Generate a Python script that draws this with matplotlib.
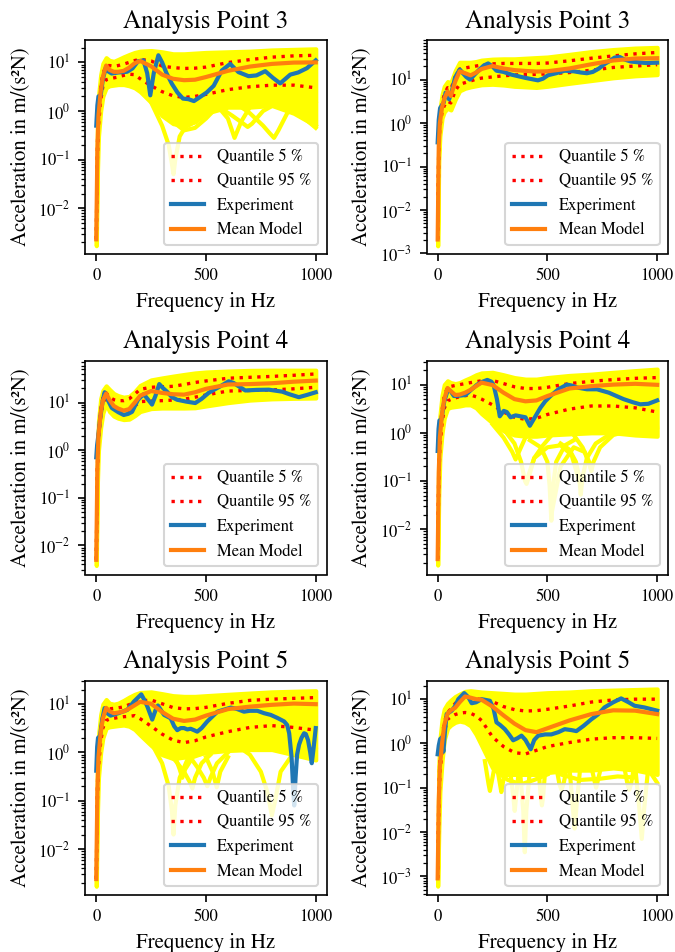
import matplotlib
matplotlib.use("Agg")
import matplotlib.pyplot as plt

plt.rcParams['font.family'] = ['STIXGeneral', 'DejaVu Serif']
plt.rcParams['mathtext.fontset'] = 'stix'
plt.rcParams['xtick.labelsize'] = 8
plt.rcParams['ytick.labelsize'] = 8

# ---------------- data ----------------
TITLES = ["Analysis Point 3", "Analysis Point 3", "Analysis Point 4",
          "Analysis Point 4", "Analysis Point 5", "Analysis Point 5"]
XLABEL = "Frequency in Hz"
YLABEL = "Acceleration in m/(s²N)"
LEGEND_LABELS = ["Quantile 5 %", "Quantile 95 %", "Experiment", "Mean Model"]

F = [0, 5, 10, 20, 30, 45, 60, 80, 100, 125, 150, 175, 200, 250, 300, 350,
     400, 450, 500, 600, 700, 800, 900, 1000]

# Panel 1 (Analysis Point 3, left)
P1_MEAN = [0.0023, 0.15, 0.8, 2.5, 5.0, 8.6, 7.0, 6.4, 6.4, 6.7, 7.8, 9.6, 10.7, 8.3, 5.6, 4.6, 4.3, 4.4, 5.0, 6.7, 8.2, 9.3, 9.9, 10.0]
P1_Q95 = [0.0023, 0.2, 1.0, 3.0, 5.8, 8.6, 8.6, 8.3, 8.6, 9.2, 10.0, 10.9, 11.6, 10.7, 8.4, 7.8, 7.5, 7.6, 8.0, 9.9, 11.4, 12.8, 13.6, 14.0]
P1_Q5 = [0.0023, 0.1, 0.5, 1.6, 3.2, 4.4, 4.6, 4.8, 5.0, 5.4, 5.7, 5.6, 4.6, 3.3, 2.5, 2.05, 1.9, 2.0, 2.2, 2.75, 3.15, 3.4, 3.4, 3.0]
P1_HI = [0.003, 0.5, 2.0, 5.5, 9.5, 12.5, 11, 10.5, 11.5, 13, 14.5, 16, 17, 17.5, 16.5, 15, 15, 15.5, 16, 16.5, 17, 18, 18.5, 19]
P1_LO = [0.0017, 0.05, 0.3, 1.0, 2.0, 3.0, 3.3, 3.4, 3.5, 3.5, 3.3, 3.0, 2.5, 1.5, 0.8, 0.55, 0.5, 0.6, 0.9, 1.2, 1.2, 1.3, 0.9, 0.5]
P1_EXP_F = [0, 5, 10, 20, 30, 44, 55, 70, 100, 140, 165, 190, 215, 232, 246, 262, 283, 300, 320, 345, 370, 395, 420, 445, 470, 503, 535, 572, 610, 648, 694, 730, 770, 805, 838, 884, 920, 960, 1000]
P1_EXP = [0.5, 1.3, 2.0, 2.1, 4.5, 8.0, 6.5, 5.9, 6.2, 6.4, 7.5, 10.5, 11, 6, 2.1, 6, 14, 10, 6.0, 3.6, 2.4, 1.8, 1.75, 1.6, 1.9, 2.4, 3.3, 6.8, 9.3, 6.3, 5.2, 5.4, 6.6, 4.8, 3.7, 5.6, 6.2, 7.6, 11]
P1_SAMPLES = [
    ([250, 300, 330, 345, 352, 360, 380, 420, 470], [1.5, 0.5, 0.2, 0.08, 0.05, 0.1, 0.3, 0.6, 0.8]),
    ([400, 450, 500, 550, 600, 630, 660, 700, 750], [0.45, 0.6, 1.0, 1.3, 0.7, 0.28, 0.6, 1.2, 1.6]),
    ([600, 650, 700, 760, 790, 810, 830, 870, 920, 1000], [1.6, 1.3, 0.9, 0.5, 0.35, 0.28, 0.4, 0.9, 1.3, 1.6]),
    ([500, 560, 620, 670, 690, 710, 760, 830, 900, 1000], [1.6, 1.2, 0.8, 0.55, 0.47, 0.55, 1.0, 1.5, 1.2, 0.5]),
    ([300, 350, 400, 450, 500, 550], [1.0, 0.6, 0.4, 0.45, 0.7, 1.2]),
    ([700, 800, 900, 950, 1000], [1.8, 1.6, 1.0, 0.7, 0.45]),
]

# Panel 2 (Analysis Point 3, right)
P2_MEAN = [0.0021, 0.3, 1.0, 2.3, 3.6, 5.3, 4.2, 9.0, 15.5, 14.0, 12.5, 14.5, 17.5, 20.5, 18.0, 16.5, 15.8, 15.3, 15.5, 18.0, 22.5, 27.5, 30.5, 31.0]
P2_Q95 = [0.0021, 0.35, 1.2, 2.8, 4.5, 6.5, 6.0, 11.5, 17.5, 18.5, 19.5, 20.5, 21.5, 23, 23.5, 23.5, 23.5, 23.5, 24, 27, 31, 35, 39, 42]
P2_Q5 = [0.0021, 0.25, 0.8, 1.8, 2.5, 3.2, 2.9, 5.5, 7.8, 8.5, 9.3, 10.2, 10.8, 11.5, 12.2, 12.8, 13.0, 13.2, 13.5, 14.5, 16.4, 19, 20.5, 22]
P2_HI = [0.0025, 0.6, 2.0, 4.5, 7.0, 9, 8.5, 16, 25, 25, 25, 26, 28, 29.5, 30, 30, 31, 32, 33, 38, 44, 49, 53, 55]
P2_LO = [0.0015, 0.15, 0.5, 1.3, 1.8, 2.2, 2.0, 3.5, 5.5, 6.3, 6.8, 7.2, 7.6, 7.8, 7.5, 7.0, 6.8, 6.6, 7.0, 8.2, 9.5, 11, 12.2, 13.0]
P2_EXP_F = [0, 5, 11, 18, 28, 36, 45, 52, 65, 79, 90, 101, 115, 130, 147, 165, 185, 210, 230, 250, 268, 300, 336, 397, 430, 457, 480, 503, 540, 579, 620, 654, 680, 707, 735, 760, 785, 806, 830, 851, 880, 912, 950, 1000]
P2_EXP = [0.36, 1.2, 2.2, 2.5, 3.0, 5.0, 4.5, 3.5, 5.5, 11, 14, 17, 14, 11.5, 10, 12.5, 16, 21, 23.5, 20, 16, 15, 13, 11, 10.2, 9.6, 10.5, 12.6, 14, 16, 15.5, 14.5, 14, 15, 18, 22.7, 27, 32, 33, 29, 26, 25, 24, 24.5]
P2_SAMPLES = []

# Panel 3 (Analysis Point 4, left)
P3_MEAN = [0.005, 0.4, 2.0, 6.0, 11, 15.5, 11.5, 8.5, 7.5, 6.8, 7.3, 10, 14, 17.5, 16, 15, 14.7, 16.5, 19.5, 24, 24.5, 25.5, 27.5, 29]
P3_Q95 = [0.005, 0.45, 2.3, 7, 12.5, 16, 13, 11.5, 11, 11, 12, 15, 19, 21, 21.5, 22, 24, 26.5, 28.5, 32.5, 34, 35.5, 37.5, 40]
P3_Q5 = [0.005, 0.35, 1.7, 5, 9.5, 14, 9.5, 7.5, 7.0, 6.7, 6.8, 8.5, 10.5, 10.8, 11, 11.3, 11.8, 13, 14.5, 17.5, 18, 18.5, 19.5, 21]
P3_HI = [0.0065, 0.8, 4, 12, 18, 22.5, 19, 15.5, 14, 13, 13.5, 17, 23, 30, 33, 36, 39, 42, 44, 46, 47.5, 48, 48, 48]
P3_LO = [0.0038, 0.2, 1.0, 3, 6, 9.5, 6.5, 5.2, 4.7, 4.4, 4.5, 5.3, 6.5, 7.5, 7.7, 7.7, 7.7, 7.8, 8.5, 10, 11.3, 12, 12.3, 12.5]
P3_EXP_F = [0, 4, 8, 18, 28, 38, 50, 71, 100, 125, 145, 163, 190, 216, 240, 254, 270, 287, 305, 322, 345, 368, 410, 451, 480, 512, 540, 565, 603, 625, 649, 679, 730, 786, 847, 880, 923, 960, 1000]
P3_EXP = [0.71, 1.3, 1.8, 4.8, 10, 16.5, 12, 7.7, 6.3, 5.5, 5.8, 6.4, 11.5, 15, 11, 9.1, 14, 24.5, 20, 17, 13, 11.5, 10.5, 9.8, 12, 16, 19, 22, 28, 26, 22, 18, 18.5, 18.7, 17, 15, 13, 14.5, 16.5]
P3_SAMPLES = []

# Panel 4 (Analysis Point 4, right)
P4_MEAN = [0.0024, 0.15, 0.8, 2.5, 5.0, 8.5, 7.3, 6.1, 6.2, 6.8, 7.8, 9.3, 11.0, 9.8, 6.8, 5.0, 4.5, 4.7, 5.8, 8.3, 9.3, 10.0, 10.4, 9.9]
P4_Q95 = [0.0024, 0.2, 1.0, 3.0, 5.8, 8.8, 9.2, 9.6, 10, 10.5, 11, 11.5, 12.0, 12.2, 10.5, 9.0, 8.3, 8.3, 8.8, 10.5, 11.7, 12.7, 13.5, 14.0]
P4_Q5 = [0.0024, 0.1, 0.5, 1.6, 3.2, 4.6, 4.9, 5.3, 5.6, 5.9, 6.1, 5.6, 5.0, 3.8, 2.7, 2.1, 1.9, 2.0, 2.4, 3.1, 3.6, 3.6, 3.3, 2.7]
P4_HI = [0.003, 0.6, 2.2, 6, 10, 12, 11, 10.5, 11, 12.5, 14, 16, 17.5, 18, 16, 14, 13, 13, 14, 15.5, 16.5, 18, 19.5, 21]
P4_LO = [0.0018, 0.05, 0.3, 1.0, 2.0, 3.2, 3.4, 3.5, 3.6, 3.8, 3.8, 3.3, 2.5, 1.6, 1.1, 0.9, 0.85, 0.85, 0.9, 0.95, 1.0, 1.0, 0.9, 0.85]
P4_EXP_F = [0, 4, 8, 17, 30, 47, 60, 74, 100, 127, 155, 180, 205, 226, 245, 256, 270, 283, 292, 301, 315, 332, 355, 377, 400, 420, 440, 468, 490, 514, 550, 589, 610, 635, 680, 726, 780, 847, 890, 923, 960, 1000]
P4_EXP = [0.42, 1.2, 1.8, 1.9, 4.5, 8.0, 7.2, 5.8, 5.9, 6.1, 8.0, 10, 11.5, 12.5, 11.5, 9.4, 5, 2.2, 2.5, 2.85, 2.7, 2.1, 2.3, 2.2, 2.1, 1.4, 2.0, 3.3, 4.5, 5.8, 8, 10, 9.6, 8.7, 8.0, 8.0, 6.8, 5.0, 4.3, 3.9, 4.0, 4.7]
P4_SAMPLES = [
    ([250, 300, 340, 355, 370, 400, 450], [1.5, 0.8, 0.4, 0.28, 0.4, 0.8, 1.2]),
    ([300, 350, 380, 398, 405, 415, 440, 480, 520], [1.2, 0.6, 0.25, 0.1, 0.087, 0.12, 0.3, 0.55, 0.9]),
    ([420, 470, 500, 510, 518, 526, 540, 580, 620], [0.7, 0.5, 0.25, 0.08, 0.015, 0.08, 0.25, 0.55, 0.7]),
    ([560, 600, 630, 645, 652, 660, 680, 720, 780], [0.6, 0.45, 0.25, 0.12, 0.052, 0.12, 0.3, 0.6, 0.9]),
    ([620, 660, 690, 700, 710, 740, 800, 900, 1000], [0.9, 0.5, 0.25, 0.16, 0.25, 0.5, 0.9, 1.2, 1.3]),
    ([405, 440, 500, 560, 610, 645], [0.1, 0.3, 0.5, 0.55, 0.35, 0.1]),
    ([518, 560, 620, 670, 700], [0.02, 0.2, 0.5, 0.4, 0.17]),
]

# Panel 5 (Analysis Point 5, left)
P5_MEAN = [0.0024, 0.15, 0.8, 2.5, 5.0, 8.4, 7.2, 6.5, 6.7, 7.1, 8.1, 9.5, 11.2, 10.2, 6.9, 5.0, 4.5, 4.8, 5.8, 7.9, 8.9, 9.7, 10.3, 10.0]
P5_Q95 = [0.0024, 0.2, 1.0, 3.0, 5.8, 8.6, 8.0, 8.2, 8.4, 8.8, 9.8, 10.8, 11.7, 12.2, 10.2, 8.5, 8.0, 8.1, 8.6, 10.4, 12.0, 12.7, 13.2, 13.7]
P5_Q5 = [0.0024, 0.1, 0.5, 1.6, 3.2, 4.6, 4.9, 5.1, 5.3, 5.5, 5.6, 5.8, 5.0, 3.5, 2.4, 1.8, 1.6, 1.75, 2.1, 2.7, 3.3, 3.6, 3.3, 2.9]
P5_HI = [0.003, 0.6, 2.2, 6, 10, 12.5, 10.5, 10, 10.5, 12, 14, 16, 17.5, 18, 16.5, 15, 14.5, 14.5, 15, 16, 17, 18, 18.5, 19]
P5_LO = [0.0017, 0.05, 0.3, 1.0, 2.0, 3.2, 3.4, 3.5, 3.6, 3.7, 3.5, 3.0, 2.3, 1.4, 0.9, 0.75, 0.8, 0.9, 1.0, 1.1, 1.15, 1.15, 0.9, 0.7]
P5_EXP_F = [0, 4, 8, 17, 28, 38, 50, 65, 100, 141, 172, 205, 220, 233, 255, 270, 281, 295, 309, 339, 355, 369, 385, 400, 415, 430, 445, 460, 480, 506, 552, 613, 640, 673, 700, 734, 765, 795, 825, 856, 870, 879, 890, 898, 902, 908, 915, 924, 935, 947, 955, 965, 975, 982, 990, 1000]
P5_EXP = [0.42, 1.3, 2.0, 2.2, 5, 8.3, 6.5, 5.8, 6.5, 7.6, 11.4, 16, 12, 8.9, 4.8, 7.5, 9.4, 7.5, 6, 5.1, 3.5, 2.9, 3.2, 3.2, 3.0, 3.1, 2.9, 2.7, 3.2, 4.4, 7.0, 8.5, 8.0, 7, 7.3, 7.3, 6.5, 6.0, 5.2, 4.4, 3.7, 2.5, 0.8, 0.15, 0.08, 0.3, 0.9, 1.45, 2.0, 2.5, 2.4, 1.8, 1.0, 0.6, 1.2, 3.2]
P5_SAMPLES = [
    ([250, 300, 330, 345, 352, 360, 380, 420], [1.6, 0.6, 0.2, 0.06, 0.02, 0.08, 0.3, 0.8]),
    ([330, 370, 400, 425, 438, 450, 480, 520], [1.0, 0.6, 0.4, 0.25, 0.18, 0.3, 0.6, 0.9]),
    ([420, 460, 490, 506, 520, 550, 600], [0.9, 0.5, 0.3, 0.2, 0.3, 0.6, 1.0]),
    ([360, 380, 392, 405, 440, 500], [0.8, 0.45, 0.3, 0.45, 0.8, 1.0]),
    ([600, 650, 700, 750, 780, 800, 815, 840, 900, 1000], [1.5, 1.3, 0.9, 0.4, 0.15, 0.05, 0.1, 0.4, 1.0, 1.3]),
    ([500, 530, 549, 565, 600], [0.8, 0.4, 0.19, 0.4, 0.8]),
]

# Panel 6 (Analysis Point 5, right)
P6_MEAN = [0.0009, 0.05, 0.3, 1.0, 2.6, 4.7, 5.6, 6.4, 8.5, 11.5, 10.8, 10.0, 9.7, 6.8, 4.3, 2.8, 2.0, 1.8, 2.2, 3.3, 4.6, 5.6, 5.5, 4.6]
P6_Q95 = [0.0009, 0.07, 0.4, 1.3, 3.0, 5.0, 6.0, 8.0, 10, 11.2, 10.5, 10.2, 9.8, 8.8, 6.8, 5.8, 5.4, 5.5, 5.9, 7.0, 8.6, 9.6, 10, 10]
P6_Q5 = [0.0009, 0.03, 0.2, 0.7, 1.8, 3.5, 4.0, 4.5, 4.8, 5.0, 4.8, 4.2, 3.3, 1.4, 0.85, 0.62, 0.58, 0.7, 0.85, 1.05, 1.25, 1.35, 1.35, 1.3]
P6_HI = [0.0012, 0.3, 1.2, 3.5, 6, 8, 9.5, 11.5, 13, 15, 15.5, 15, 14.5, 14, 13.5, 13, 13, 13.5, 14, 14.5, 15.5, 16, 16.5, 17]
P6_LO = [0.0006, 0.01, 0.08, 0.4, 1.2, 2.2, 2.6, 3.0, 3.2, 3.0, 2.5, 1.6, 0.9, 0.28, 0.2, 0.2, 0.2, 0.2, 0.22, 0.25, 0.25, 0.28, 0.25, 0.2]
P6_EXP_F = [0, 5, 11, 18, 26, 33, 41, 64, 80, 94, 121, 140, 155, 175, 200, 238, 255, 268, 285, 306, 325, 344, 362, 382, 400, 424, 440, 458, 490, 518, 550, 579, 610, 632, 665, 700, 730, 760, 800, 836, 870, 897, 942, 1000]
P6_EXP = [0.57, 0.9, 1.25, 1.35, 0.65, 1.8, 4.6, 5.5, 7, 10, 13.7, 11, 8.1, 8.5, 10, 9.2, 6, 3.0, 2.6, 2.1, 1.6, 1.18, 1.3, 1.5, 1.2, 0.74, 1.2, 1.5, 1.6, 1.6, 1.8, 2.1, 2.0, 1.9, 2.5, 3.5, 4.5, 6.5, 8.5, 10.4, 8.5, 7.1, 6.5, 5.5]
P6_SAMPLES = [
    ([215, 232, 238, 244, 262], [0.4, 0.12, 0.085, 0.12, 0.35]),
    ([270, 284, 290, 296, 310], [0.3, 0.12, 0.08, 0.12, 0.3]),
    ([330, 345, 351, 357, 370], [0.25, 0.06, 0.03, 0.06, 0.25]),
    ([375, 390, 397, 404, 420], [0.25, 0.03, 0.0035, 0.03, 0.25]),
    ([460, 470, 475, 480, 490], [0.25, 0.06, 0.04, 0.06, 0.25]),
    ([540, 555, 564, 573, 590], [0.3, 0.12, 0.09, 0.12, 0.3]),
    ([600, 615, 624, 633, 650], [0.3, 0.04, 0.012, 0.04, 0.3]),
    ([700, 715, 722, 729, 745], [0.3, 0.14, 0.1, 0.14, 0.3]),
    ([850, 865, 873, 881, 895], [0.3, 0.12, 0.09, 0.12, 0.3]),
    ([900, 920, 930, 940, 960], [0.3, 0.03, 0.007, 0.03, 0.3]),
    ([260, 320, 380, 440, 500], [0.25, 0.15, 0.12, 0.15, 0.2]),
    ([560, 650, 740, 820, 900], [0.2, 0.15, 0.16, 0.18, 0.17]),
    ([940, 975, 1000], [0.3, 0.2, 0.13]),
]

# ---------------- layout (pixels of a 675 x 952 figure) ----------------
W, H = 675, 952
COL_X = [85.3, 426.7]
AX_W = 241.4
ROW_T = [40.0, 361.0, 681.0]
AX_H = 213.5
YLIM_EXP = [(-2.93, 1.46), (-3.0, 1.91), (-2.61, 1.874),
            (-2.94, 1.49), (-2.94, 1.48), (-3.41, 1.41)]

panels = [
    (P1_MEAN, P1_Q5, P1_Q95, P1_HI, P1_LO, P1_EXP_F, P1_EXP, P1_SAMPLES),
    (P2_MEAN, P2_Q5, P2_Q95, P2_HI, P2_LO, P2_EXP_F, P2_EXP, P2_SAMPLES),
    (P3_MEAN, P3_Q5, P3_Q95, P3_HI, P3_LO, P3_EXP_F, P3_EXP, P3_SAMPLES),
    (P4_MEAN, P4_Q5, P4_Q95, P4_HI, P4_LO, P4_EXP_F, P4_EXP, P4_SAMPLES),
    (P5_MEAN, P5_Q5, P5_Q95, P5_HI, P5_LO, P5_EXP_F, P5_EXP, P5_SAMPLES),
    (P6_MEAN, P6_Q5, P6_Q95, P6_HI, P6_LO, P6_EXP_F, P6_EXP, P6_SAMPLES),
]

fig = plt.figure(figsize=(W / 150, H / 150), dpi=150)

for i, (mean, q5, q95, hi, lo, ef, ev, samples) in enumerate(panels):
    r, c = divmod(i, 2)
    left = COL_X[c] / W
    bottom = 1 - (ROW_T[r] + AX_H) / H
    ax = fig.add_axes([left, bottom, AX_W / W, AX_H / H])

    ax.fill_between(F, lo, hi, facecolor='yellow', edgecolor='yellow', linewidth=2)
    for sf, sv in samples:
        ax.plot(sf, sv, color='yellow', lw=2)
    ax.plot(F, q5, ':', color='red', lw=1.6, label=LEGEND_LABELS[0])
    ax.plot(F, q95, ':', color='red', lw=1.6, label=LEGEND_LABELS[1])
    ax.plot(ef, ev, color='C0', lw=2, label=LEGEND_LABELS[2])
    ax.plot(F, mean, color='C1', lw=2, label=LEGEND_LABELS[3])

    ax.set_yscale('log')
    lo_e, hi_e = YLIM_EXP[i]
    ax.set_ylim(10 ** lo_e, 10 ** hi_e)
    ax.set_xlim(-50, 1050)
    ax.set_xticks([0, 500, 1000])
    ax.set_title(TITLES[i], fontsize=12)
    ax.set_xlabel(XLABEL, fontsize=10)
    ax.set_ylabel(YLABEL, fontsize=10)
    ax.legend(loc='lower right', fontsize=8)

fig.savefig("out.png", dpi=150)
